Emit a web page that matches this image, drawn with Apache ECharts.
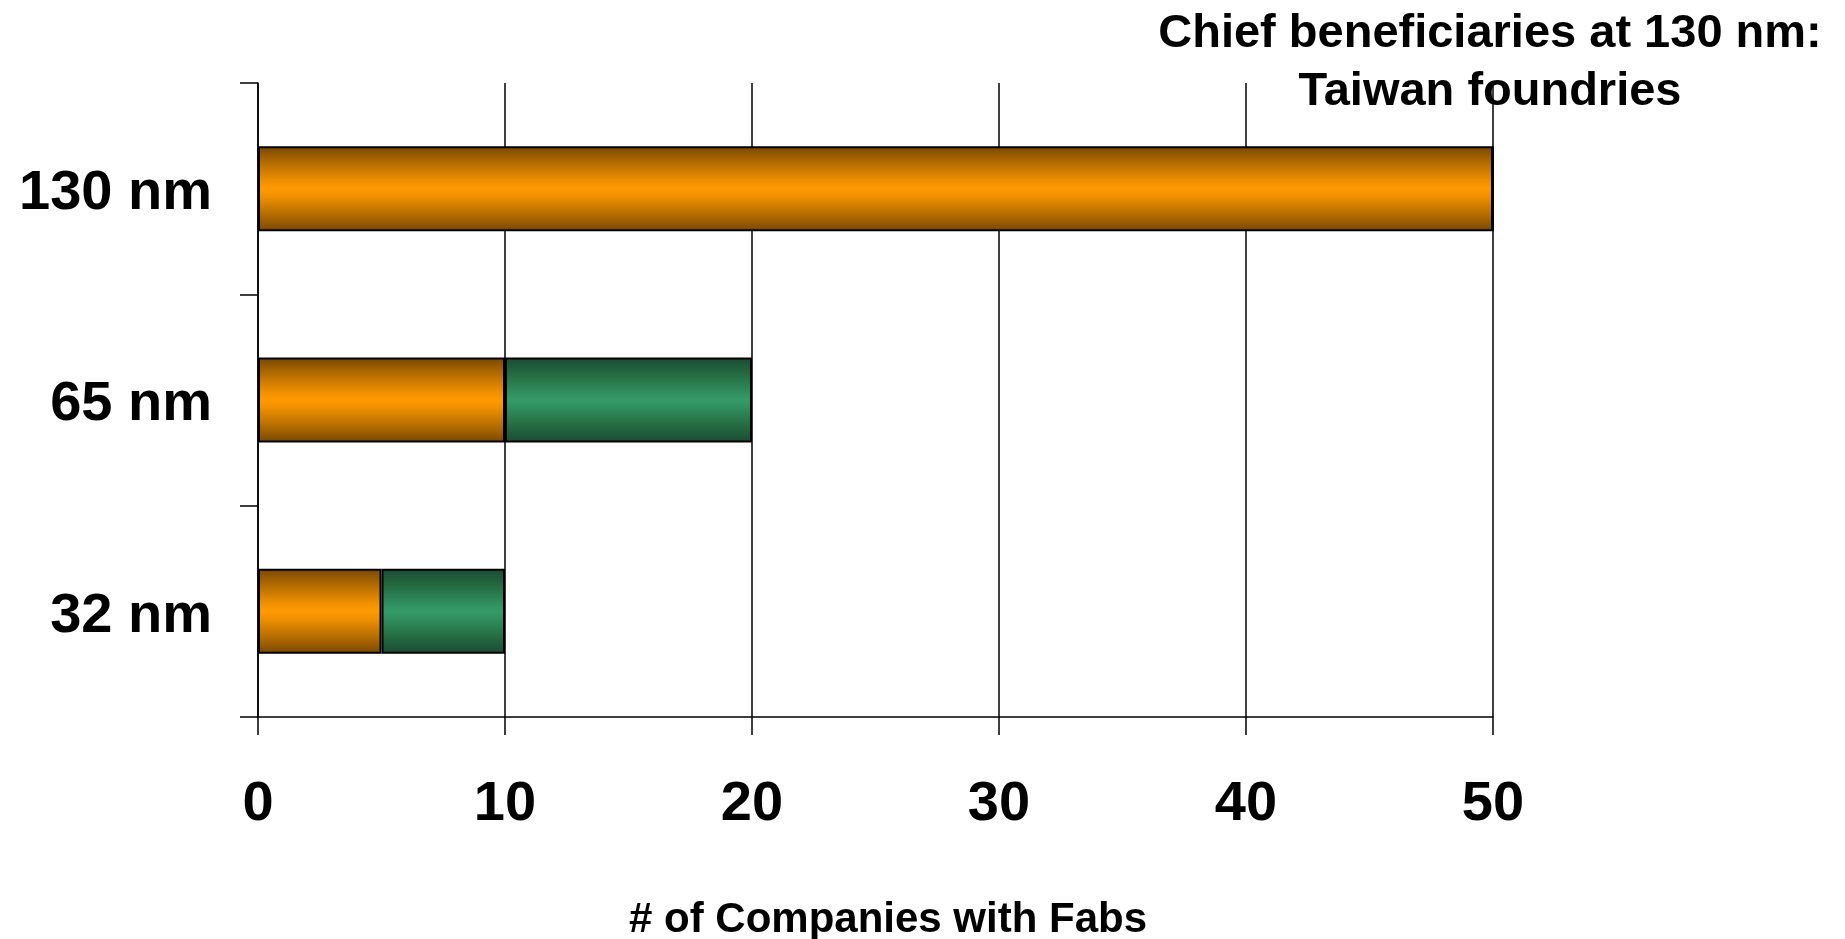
<!DOCTYPE html>
<html>
<head>
<meta charset="utf-8">
<title>Companies with Fabs by Node</title>
<script src="https://cdn.jsdelivr.net/npm/echarts@6/dist/echarts.min.js"></script>
<style>
  html, body { margin: 0; padding: 0; background: #ffffff; }
  #chart { width: 1845px; height: 939px; }
</style>
</head>
<body>
<div id="chart"></div>
<script>
// Process nodes, listed bottom to top on the category axis
const categories = ['32 nm', '65 nm', '130 nm'];
// Number of companies with fabs, first (orange) segment of each bar
const orangeValues = [5, 10, 50];
// Second (green) segment stacked after the orange one
const greenValues = [5, 10, 0];
// Value axis ticks
const xTicks = [0, 10, 20, 30, 40, 50];

const titleLines = ['Chief beneficiaries at 130 nm:', 'Taiwan foundries'];
const xAxisTitle = '# of Companies with Fabs';

const FONT = "'Liberation Sans', Arial, sans-serif";

function bandGradient(edge, mid, edgeSoft, midSoft) {
  return new echarts.graphic.LinearGradient(0, 0, 0, 1, [
    { offset: 0, color: edge },
    { offset: 0.18, color: edgeSoft },
    { offset: 0.42, color: midSoft },
    { offset: 0.5, color: mid },
    { offset: 0.58, color: midSoft },
    { offset: 0.82, color: edgeSoft },
    { offset: 1, color: edge }
  ]);
}

const chart = echarts.init(document.getElementById('chart'), null, { renderer: 'canvas' });

chart.setOption({
  backgroundColor: '#ffffff',
  animation: false,
  grid: { left: 258, right: 352, top: 83, bottom: 222, containLabel: false },
  xAxis: {
    type: 'value',
    min: xTicks[0],
    max: xTicks[xTicks.length - 1],
    interval: xTicks[1] - xTicks[0],
    axisLine: { show: true, lineStyle: { color: '#000', width: 1.5 } },
    axisTick: { show: true, inside: false, length: 18, lineStyle: { color: '#000', width: 1.5 } },
    splitLine: { show: true, lineStyle: { color: '#000', width: 1.5 } },
    axisLabel: {
      color: '#000', fontFamily: FONT, fontWeight: 'bold', fontSize: 56, margin: 60
    }
  },
  yAxis: {
    type: 'category',
    data: categories,
    axisLine: { show: true, lineStyle: { color: '#000', width: 1.5 } },
    axisTick: { show: true, inside: false, length: 18, lineStyle: { color: '#000', width: 1.5 } },
    splitLine: { show: false },
    axisLabel: {
      margin: 46,
      formatter: function (v) { return '{n|' + v + '}'; },
      rich: {
        n: {
          color: '#000', fontFamily: FONT, fontWeight: 'bold', fontSize: 56,
          padding: [10, 0, 0, 0]
        }
      }
    }
  },
  series: [
    {
      name: 'Orange segment',
      type: 'bar',
      stack: 'fabs',
      barWidth: 85,
      data: orangeValues,
      itemStyle: {
        color: bandGradient('#784600', '#ff9900', '#b06a00', '#f29200'),
        borderColor: '#000',
        borderWidth: 2
      }
    },
    {
      name: 'Green segment',
      type: 'bar',
      stack: 'fabs',
      barWidth: 85,
      data: greenValues,
      itemStyle: {
        color: bandGradient('#1a4a35', '#349b68', '#23683f', '#30905f'),
        borderColor: '#000',
        borderWidth: 2
      }
    }
  ],
  graphic: [
    {
      type: 'text', x: 1490, y: 34,
      style: {
        text: titleLines[0], fill: '#000', font: 'bold 47px ' + FONT,
        textAlign: 'center', textVerticalAlign: 'middle'
      }
    },
    {
      type: 'text', x: 1490, y: 92,
      style: {
        text: titleLines[1], fill: '#000', font: 'bold 47px ' + FONT,
        textAlign: 'center', textVerticalAlign: 'middle'
      }
    },
    {
      type: 'text', x: 888, y: 920,
      style: {
        text: xAxisTitle, fill: '#000', font: 'bold 42px ' + FONT,
        textAlign: 'center', textVerticalAlign: 'middle'
      }
    }
  ]
});
</script>
</body>
</html>
